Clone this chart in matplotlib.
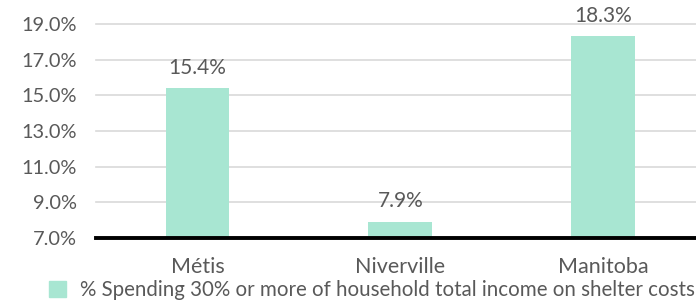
import matplotlib
matplotlib.use("Agg")
import matplotlib.pyplot as plt
from matplotlib.patches import Patch

categories = ["Métis", "Niverville", "Manitoba"]
values = [15.4, 7.9, 18.3]
yticks = [7.0, 9.0, 11.0, 13.0, 15.0, 17.0, 19.0]
series_name = "% Spending 30% or more of household total income on shelter costs"

W, H = 696, 300
fig = plt.figure(figsize=(W/100, H/100), dpi=100)
ax = fig.add_axes([96/W, (H-238)/H, 600/W, (238-24)/H])
fam = ['Lato', 'DejaVu Sans']
plt.rcParams['font.family'] = fam
txt = '#595959'
color = '#A8E6D2'

x = list(range(len(categories)))
ax.bar(x, [v - 7.0 for v in values], bottom=7.0, width=0.315, color=color, zorder=2)
for xi, v in zip(x, values):
    ax.text(xi, v + 0.6, f"{v:.1f}%", ha='center', va='bottom', fontsize=15, color=txt, family=fam)

ax.set_xlim(-0.5, 2.456)
ax.set_ylim(7.0, 19.0)
ax.set_yticks(yticks)
ax.set_yticklabels([f"{t:.1f}%" for t in yticks], fontsize=14.4, color=txt, family=fam)
ax.set_xticks(x)
ax.set_xticklabels(categories, fontsize=15.5, color=txt, family=fam)
ax.tick_params(axis='both', length=0)
ax.tick_params(axis='x', pad=14)
ax.tick_params(axis='y', pad=14)
ax.grid(axis='y', color='#D9D9D9', linewidth=1.2, zorder=0)
for g in ax.get_ygridlines():
    g.set_clip_on(False)
for s in ['top', 'right', 'left']:
    ax.spines[s].set_visible(False)
ax.spines['bottom'].set_color('black')
ax.spines['bottom'].set_linewidth(2.8)
ax.spines['bottom'].set_zorder(3)

fig.legend(handles=[Patch(color=color, label=series_name)], loc='center',
           bbox_to_anchor=(372/W, (H-290)/H), frameon=False,
           handlelength=0.85, handleheight=0.85, handletextpad=0.7,
           borderpad=0, labelcolor=txt, prop={'family': fam, 'size': 14.8})

fig.savefig("out.png", dpi=100)
